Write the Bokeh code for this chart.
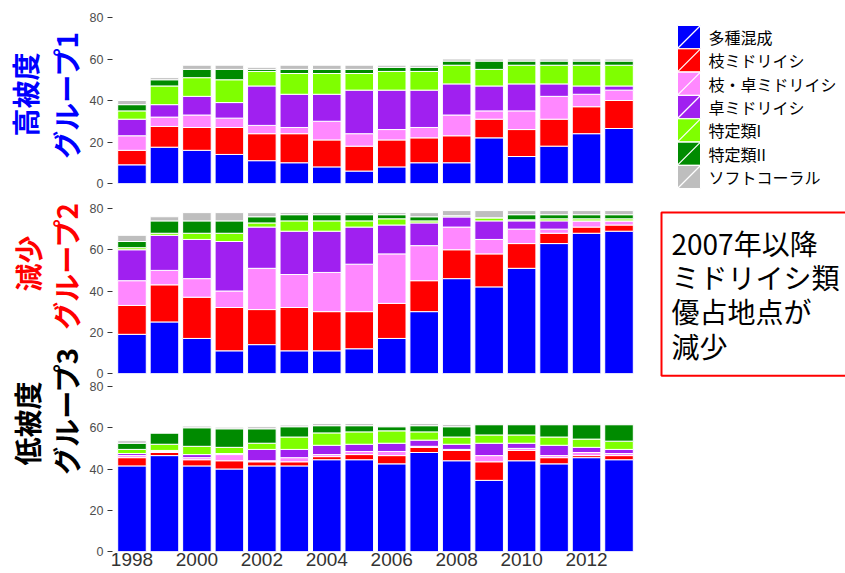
import math
from bokeh.plotting import figure
from bokeh.layouts import column, row
from bokeh.models import ColumnDataSource, Range1d, Label, FixedTicker
from bokeh.core.properties import value
from bokeh.embed import file_html
from bokeh.resources import INLINE

years = list(range(1998, 2014))
categories = ["多種混成", "枝ミドリイシ", "枝・卓ミドリイシ", "卓ミドリイシ", "特定類I", "特定類II", "ソフトコーラル"]
colors = ["#0000FF", "#FF0000", "#FF88FF", "#A020F0", "#7FFF00", "#008B00", "#BEBEBE"]
keys = ["c0", "c1", "c2", "c3", "c4", "c5", "c6"]

# Group 1 (高被度)
g1_blue = [9, 17.5, 16, 14, 11, 10, 8, 6, 8, 10, 10, 22, 13, 18, 24, 26.5]
g1_red = [7, 10, 11, 13, 13, 14, 13, 12, 13, 12, 13, 9, 13, 13, 13, 13.5]
g1_pink = [7, 4.5, 6, 4.5, 4, 3, 9, 6, 5, 5, 10, 4, 9, 11, 6, 5]
g1_purple = [8, 6, 9, 7.5, 19, 16, 13, 21, 19, 18, 15, 12, 13, 6, 4, 2]
g1_lime = [4, 9, 9, 11, 7, 10, 10, 8, 9, 9, 9, 8, 9, 9, 10, 10]
g1_green = [3, 3, 4, 5, 1, 2, 2, 2, 2, 2, 2, 4, 2, 2, 2, 2]
g1_gray = [2, 1, 2, 2, 1, 2, 2, 2, 1, 1, 1, 1, 1, 1, 1, 1]

# Group 2 (減少)
g2_blue = [19, 25, 17, 11, 14, 11, 11, 12, 17, 30, 46, 42, 51, 63, 68, 69]
g2_red = [14, 18, 20, 21, 17, 21, 19, 18, 17, 15, 14, 16, 12, 5, 3, 3]
g2_pink = [12, 7, 9, 8, 20, 16, 19, 23, 24, 17, 11, 7, 7, 2, 3, 2]
g2_purple = [15, 17, 19, 24, 20, 21, 20, 18, 14, 11, 5, 9, 4, 4, 0, 0]
g2_lime = [1, 1, 3, 4, 2, 5, 5, 3, 3, 1, 0, 1.5, 0.5, 1, 1, 1]
g2_green = [3, 6, 6, 6, 3, 3, 3, 3, 2, 2, 0.5, 0, 2.5, 2, 2, 2]
g2_gray = [3, 2, 4, 4, 2, 1, 1, 1, 1, 2, 2.5, 3.5, 2, 2, 2, 2]

# Group 3 (低被度)
g3_blue = [41.5, 46.5, 41.5, 40, 41.5, 41.5, 44.5, 44.5, 42.5, 48, 44, 34.5, 44, 42.5, 45.5, 44.5]
g3_red = [4, 1.5, 3, 4, 2, 2, 1.5, 2.5, 4, 2.5, 5, 9, 5, 3, 1, 2]
g3_pink = [1, 0.5, 1, 3, 0.5, 2, 1, 1.5, 2, 0.5, 0.5, 3, 1, 1, 1.5, 1]
g3_purple = [1, 0.5, 1.5, 0.5, 5.5, 4, 4.5, 3.5, 4, 3, 2.5, 6, 2.5, 5, 2.5, 2]
g3_lime = [2, 3, 4, 3, 3, 6, 6, 6, 6, 4, 3.5, 4, 4, 4, 4, 4]
g3_green = [3, 5.5, 9, 9, 7, 5, 3.5, 3, 2, 3, 5, 5, 5, 6, 7, 8]
g3_gray = [1.2, 0, 0.8, 0.8, 1, 0.8, 1, 1, 0.5, 1, 1, 0.5, 0.5, 0.5, 0.5, 0.5]

y_ticks = [0, 20, 40, 60, 80]
x_ticks = [1998, 2000, 2002, 2004, 2006, 2008, 2010, 2012]

title_line1 = ["高被度", "減少", "低被度"]
title_line2 = ["グループ1", "グループ2", "グループ3"]
title_colors = ["#0000FF", "#FF0000", "#000000"]
note_text = "2007年以降\nミドリイシ類\n優占地点が\n減少"

groups = [
    [g1_blue, g1_red, g1_pink, g1_purple, g1_lime, g1_green, g1_gray],
    [g2_blue, g2_red, g2_pink, g2_purple, g2_lime, g2_green, g2_gray],
    [g3_blue, g3_red, g3_pink, g3_purple, g3_lime, g3_green, g3_gray],
]

JP = "Noto Sans CJK JP"
H = 573
LW = 86
heights = [195, 185, 193]
borders = [(17, 12), (13, 7), (6, 22)]


def blank(width):
    f = figure(width=width, height=H, output_backend="svg", toolbar_location=None,
               x_range=Range1d(0, width), y_range=Range1d(0, H),
               x_axis_location=None, y_axis_location=None, min_border=0)
    f.outline_line_color = None
    f.grid.visible = False
    return f


# left: panel titles
left = blank(LW)
line1_pos = [(24, 94), (27, 263), (26, 423)]
line2_pos = [(65, 94), (65, 265), (65, 410)]
for i in range(3):
    for txt, (px, py) in ((title_line1[i], line1_pos[i]), (title_line2[i], line2_pos[i])):
        left.add_layout(Label(x=px, y=H - py, x_units="screen", y_units="screen", text=txt,
                              angle=math.pi / 2, text_align="center", text_baseline="middle",
                              text_font=JP, text_font_size="28px", text_font_style="bold",
                              text_color=title_colors[i]))

# middle: stacked bars
figs = []
for i, series in enumerate(groups):
    data = {"year": years}
    for k, s in zip(keys, series):
        data[k] = s
    src = ColumnDataSource(data)
    last = i == 2
    p = figure(width=645 - LW, height=heights[i], output_backend="svg", toolbar_location=None,
               x_range=Range1d(1997.4, 2013.6), y_range=Range1d(0, 80),
               x_axis_location="below" if last else None,
               min_border_left=110 - LW, min_border_right=7,
               min_border_top=borders[i][0], min_border_bottom=borders[i][1])
    p.outline_line_color = None
    p.xgrid.visible = False
    p.ygrid.visible = False
    p.vbar_stack(keys, x="year", width=0.88, color=colors, line_color="white",
                 line_width=1, source=src)
    p.yaxis.ticker = FixedTicker(ticks=y_ticks)
    p.yaxis.axis_line_color = None
    p.yaxis.major_tick_in = 0
    p.yaxis.major_tick_out = 5
    p.yaxis.minor_tick_line_color = None
    p.yaxis.major_tick_line_color = "#333333"
    p.yaxis.major_label_text_font = "Liberation Sans"
    p.yaxis.major_label_text_font_size = "12.5px"
    p.yaxis.major_label_text_color = "#4D4D4D"
    p.yaxis.major_label_standoff = 4
    if last:
        p.xaxis.ticker = FixedTicker(ticks=x_ticks)
        p.xaxis.axis_line_color = None
        p.xaxis.major_tick_line_color = None
        p.xaxis.minor_tick_line_color = None
        p.xaxis.major_tick_in = 0
        p.xaxis.major_tick_out = 0
        p.xaxis.major_label_standoff = 1
        p.xaxis.major_label_text_font = "Liberation Sans"
        p.xaxis.major_label_text_font_size = "19px"
        p.xaxis.major_label_text_color = "#333333"
    figs.append(p)

# right: legend keys (ggplot style, with white diagonal) and note box
right = blank(200)
n = len(categories)
key_left, key_size, key_pitch, key_top = 32, 23, 23.33, H - 25
tops = [key_top - key_pitch * i for i in range(n)]
bottoms = [t - key_size for t in tops]
lsrc = ColumnDataSource(dict(
    left=[key_left] * n, right=[key_left + key_size] * n, top=tops, bottom=bottoms,
    color=colors, label=categories,
    tx=[key_left + key_size + 8] * n, ty=[t - key_size / 2 for t in tops]))
right.quad(left="left", right="right", top="top", bottom="bottom", fill_color="color",
           line_color="white", line_width=1, source=lsrc)
right.segment(x0="left", y0="bottom", x1="right", y1="top", line_color="white",
              line_width=1.2, source=lsrc)
right.text(x="tx", y="ty", text="label", text_font=value(JP), text_font_size="16px",
           text_color="#000000", text_baseline="middle", text_align="left", source=lsrc)

right.add_layout(Label(x=16, y=H - 212, x_units="screen", y_units="screen",
                       text=note_text, text_align="left", text_baseline="top", text_font=JP,
                       text_font_size="28px", text_color="#000000", text_line_height=0.86,
                       padding=10, border_line_color="#FF0000", border_line_width=2,
                       background_fill_color="white"))

layout = row(left, column(*figs, spacing=0), right, spacing=0)
open("out.html", "w").write(file_html(layout, INLINE))
